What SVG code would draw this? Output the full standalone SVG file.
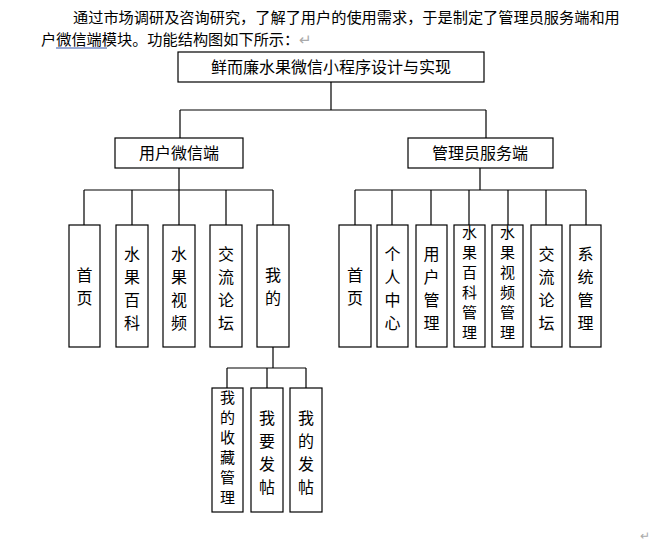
<svg xmlns="http://www.w3.org/2000/svg" width="655" height="545" viewBox="0 0 655 545">
<style>
text{font-family:"Noto Sans CJK SC","Liberation Sans",sans-serif;fill:#000}
.b{fill:#fff;stroke:#000;stroke-width:1.2}
.l{stroke:#000;stroke-width:1.2;fill:none}
.t{font-size:16px;text-anchor:middle}
.v{font-size:16px;text-anchor:middle}
.s{font-size:15px;text-anchor:middle}
.p{font-size:15.2px}
</style>
<rect width="655" height="545" fill="#fff"/>
<text class="p" x="73" y="23">通过市场调研及咨询研究，了解了用户的使用需求，于是制定了管理员服务端和用</text>
<text class="p" x="41" y="45">户微信端模块。功能结构图如下所示：<tspan fill="#aaa" style="fill:#aaa">↵</tspan></text>
<line x1="56" y1="48" x2="107" y2="48" stroke="#3355aa" stroke-width="1"/>
<text x="640" y="540" font-size="12" style="fill:#aaa">↵</text>
<g id="connectors" class="l">
<path d="M331 82V110M180 110H486M180 110V138M486 110V138"/>
<path d="M179 168V190M84 190H273M84 190V225M132 190V225M179 190V225M226 190V225M273 190V225"/>
<path d="M480 168V190M355 190H586M355 190V225M392 190V225M431 190V225M469 190V225M508 190V225M546 190V225M586 190V225"/>
<path d="M273 347V368M227 368H306M227 368V388M267 368V388M306 368V388"/>
</g>
<g id="root"><rect class="b" x="178" y="52" width="306" height="30"/><text class="t" x="331" y="73">鲜而廉水果微信小程序设计与实现</text></g>
<g id="user"><rect class="b" x="115" y="138" width="128" height="30"/><text class="t" x="179" y="159">用户微信端</text></g>
<g id="admin"><rect class="b" x="408" y="138" width="145" height="30"/><text class="t" x="480" y="159">管理员服务端</text></g>
<g id="u1"><rect class="b" x="69" y="225" width="31" height="122"/><text class="v" x="84.5" y="281">首</text><text class="v" x="84.5" y="304">页</text></g>
<g id="u2"><rect class="b" x="116" y="225" width="32" height="122"/><text class="v" x="132" y="260">水</text><text class="v" x="132" y="283">果</text><text class="v" x="132" y="306">百</text><text class="v" x="132" y="329">科</text></g>
<g id="u3"><rect class="b" x="163" y="225" width="32" height="122"/><text class="v" x="179" y="260">水</text><text class="v" x="179" y="283">果</text><text class="v" x="179" y="306">视</text><text class="v" x="179" y="329">频</text></g>
<g id="u4"><rect class="b" x="210" y="225" width="32" height="122"/><text class="v" x="226" y="260">交</text><text class="v" x="226" y="283">流</text><text class="v" x="226" y="306">论</text><text class="v" x="226" y="329">坛</text></g>
<g id="u5"><rect class="b" x="257" y="225" width="32" height="122"/><text class="v" x="273" y="281">我</text><text class="v" x="273" y="304">的</text></g>
<g id="a1"><rect class="b" x="339" y="225" width="32" height="122"/><text class="v" x="355" y="281">首</text><text class="v" x="355" y="304">页</text></g>
<g id="a2"><rect class="b" x="377" y="225" width="31" height="122"/><text class="v" x="392.5" y="260">个</text><text class="v" x="392.5" y="283">人</text><text class="v" x="392.5" y="306">中</text><text class="v" x="392.5" y="329">心</text></g>
<g id="a3"><rect class="b" x="416" y="225" width="31" height="122"/><text class="v" x="431.5" y="260">用</text><text class="v" x="431.5" y="283">户</text><text class="v" x="431.5" y="306">管</text><text class="v" x="431.5" y="329">理</text></g>
<g id="a4"><rect class="b" x="454" y="225" width="31" height="122"/><text class="s" x="469.5" y="238">水</text><text class="s" x="469.5" y="258">果</text><text class="s" x="469.5" y="278">百</text><text class="s" x="469.5" y="298">科</text><text class="s" x="469.5" y="318">管</text><text class="s" x="469.5" y="338">理</text></g>
<g id="a5"><rect class="b" x="492" y="225" width="31" height="122"/><text class="s" x="507.5" y="238">水</text><text class="s" x="507.5" y="258">果</text><text class="s" x="507.5" y="278">视</text><text class="s" x="507.5" y="298">频</text><text class="s" x="507.5" y="318">管</text><text class="s" x="507.5" y="338">理</text></g>
<g id="a6"><rect class="b" x="531" y="225" width="31" height="122"/><text class="v" x="546.5" y="260">交</text><text class="v" x="546.5" y="283">流</text><text class="v" x="546.5" y="306">论</text><text class="v" x="546.5" y="329">坛</text></g>
<g id="a7"><rect class="b" x="570" y="225" width="31" height="122"/><text class="v" x="585.5" y="260">系</text><text class="v" x="585.5" y="283">统</text><text class="v" x="585.5" y="306">管</text><text class="v" x="585.5" y="329">理</text></g>
<g id="m1"><rect class="b" x="212" y="388" width="31" height="124"/><text class="s" x="227.5" y="403">我</text><text class="s" x="227.5" y="423">的</text><text class="s" x="227.5" y="443">收</text><text class="s" x="227.5" y="463">藏</text><text class="s" x="227.5" y="483">管</text><text class="s" x="227.5" y="503">理</text></g>
<g id="m2"><rect class="b" x="251" y="388" width="32" height="124"/><text class="v" x="267" y="424">我</text><text class="v" x="267" y="447">要</text><text class="v" x="267" y="470">发</text><text class="v" x="267" y="493">帖</text></g>
<g id="m3"><rect class="b" x="290" y="388" width="32" height="124"/><text class="v" x="306" y="424">我</text><text class="v" x="306" y="447">的</text><text class="v" x="306" y="470">发</text><text class="v" x="306" y="493">帖</text></g>
</svg>
